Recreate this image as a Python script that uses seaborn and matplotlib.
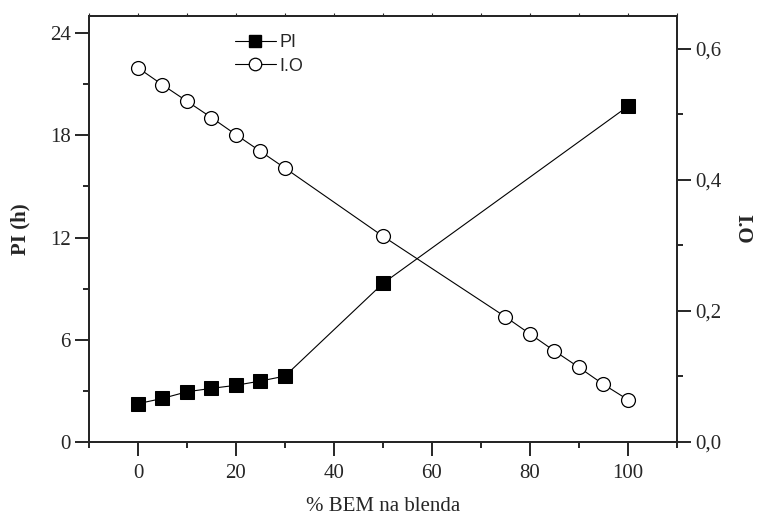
import numpy as np
import pandas as pd
import matplotlib
matplotlib.use("Agg")
import matplotlib.pyplot as plt
from matplotlib.ticker import MultipleLocator, FuncFormatter
from matplotlib.lines import Line2D
import seaborn as sns

# data
pi_x = [0, 5, 10, 15, 20, 25, 30, 50, 100]
pi_h = [2.25, 2.56, 2.95, 3.15, 3.33, 3.58, 3.87, 9.31, 19.7]

io_x = [0, 5, 10, 15, 20, 25, 30, 50, 75, 80, 85, 90, 95, 100]
io_val = [0.571, 0.545, 0.520, 0.495, 0.469, 0.4435, 0.418, 0.314,
          0.191, 0.165, 0.139, 0.114, 0.088, 0.0646]

sns.set_style("ticks")
plt.rcParams['font.family'] = ['Liberation Serif', 'DejaVu Serif']

fig = plt.figure(figsize=(7.58, 5.17), dpi=100)
ax = fig.add_axes([0.1174, 0.145, 0.7756, 0.824])
ax2 = ax.twinx()

df_pi = pd.DataFrame({'x': pi_x, 'y': pi_h})
df_io = pd.DataFrame({'x': io_x, 'y': io_val})

sns.lineplot(data=df_pi, x='x', y='y', ax=ax, color='black', lw=0.8,
             marker='s', markersize=9.5, markerfacecolor='black',
             markeredgecolor='black', legend=False)
sns.lineplot(data=df_io, x='x', y='y', ax=ax2, color='black', lw=0.8,
             marker='o', markersize=10, markerfacecolor='white',
             markeredgecolor='black', markeredgewidth=0.9, legend=False)

ax.set_xlim(-10, 110)
ax.set_ylim(0, 25)
ax2.set_ylim(0, 0.65)

ax.xaxis.set_major_locator(MultipleLocator(20))
ax.xaxis.set_minor_locator(MultipleLocator(10))
ax.yaxis.set_major_locator(MultipleLocator(6))
ax.yaxis.set_minor_locator(MultipleLocator(3))
ax2.yaxis.set_major_locator(MultipleLocator(0.2))
ax2.yaxis.set_minor_locator(MultipleLocator(0.1))
ax2.yaxis.set_major_formatter(FuncFormatter(lambda v, p: f"{v:.1f}".replace('.', ',')))

for a in (ax, ax2):
    for s in a.spines.values():
        s.set_linewidth(1.4)
        s.set_visible(True)
    a.tick_params(which='major', direction='out', length=10, width=1.4, labelsize=15)
    a.tick_params(which='minor', direction='out', length=4, width=1.4)

# tiny ticks along the top edge
sec = ax.secondary_xaxis('top')
sec.xaxis.set_major_locator(MultipleLocator(10))
sec.tick_params(direction='out', length=2.5, width=0.8, labeltop=False)
sec.spines['top'].set_linewidth(1.4)

ax.tick_params(axis='x', which='major', pad=6)
ax.tick_params(axis='y', which='major', pad=3)
ax2.tick_params(axis='y', which='major', pad=3)

ax.set_xlabel('% BEM na blenda', fontsize=15, labelpad=10)
ax.set_ylabel('PI (h)', fontsize=15, fontweight='bold', labelpad=14)
ax2.set_ylabel('I.O', fontsize=15, fontweight='bold', rotation=270, labelpad=22)

handles = [
    Line2D([], [], color='black', lw=0.8, marker='s', markersize=8,
           markerfacecolor='black'),
    Line2D([], [], color='black', lw=0.8, marker='o', markersize=9,
           markerfacecolor='white', markeredgewidth=0.9),
]
ax.legend(handles, ['PI', 'I.O'], loc='upper left', bbox_to_anchor=(0.22, 0.995),
          frameon=False, handlelength=2.3, handletextpad=0.2, labelspacing=0.35,
          prop={'family': 'Liberation Sans', 'size': 13})

fig.savefig('out.png', dpi=100)
